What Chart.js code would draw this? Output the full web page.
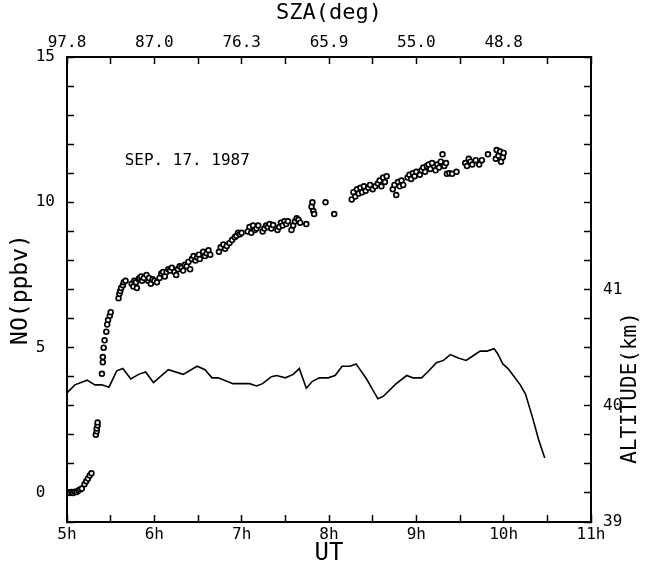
<!DOCTYPE html>
<html>
<head>
  <meta charset="UTF-8">
  <title>NO SEP. 17. 1987</title>
  <style>
    body {
      margin: 0;
      background: #fff;
      overflow: hidden;
    }
    .grafica-container {
      width: 646px;
      height: 572px;
      position: relative;
    }
  </style>
</head>
<body>
  <div class="grafica-container">
    <canvas id="grafica"></canvas>
  </div>

  <script src="https://cdn.jsdelivr.net/npm/chart.js"></script>
  <script>
    // NO mixing ratio (ppbv) vs UT (hours)
    var noHours = [
      5.01, 5.03, 5.05, 5.07, 5.09, 5.11, 5.13, 5.15, 5.17, 5.20, 5.22, 5.24, 5.26, 5.28,
      5.33, 5.34, 5.34, 5.35, 5.35,
      5.40, 5.41, 5.41, 5.42, 5.43, 5.45, 5.46, 5.47, 5.49, 5.50,
      5.59, 5.60, 5.61, 5.62, 5.64, 5.65, 5.67,
      5.74, 5.76, 5.77, 5.79, 5.80, 5.82, 5.83, 5.85, 5.86, 5.88,
      5.91, 5.93, 5.94, 5.96, 5.98, 6.00, 6.03,
      6.06, 6.08, 6.10, 6.12, 6.14, 6.16, 6.18, 6.20,
      6.23, 6.25, 6.27, 6.29, 6.31, 6.33, 6.35, 6.37,
      6.39, 6.41, 6.43, 6.45, 6.47, 6.49, 6.51, 6.52,
      6.56, 6.58, 6.60, 6.62, 6.64,
      6.74, 6.76, 6.79, 6.81, 6.83,
      6.86, 6.89, 6.92, 6.94, 6.96, 6.98, 7.00,
      7.07, 7.09, 7.11, 7.13, 7.15, 7.17, 7.19,
      7.24, 7.26, 7.28, 7.30, 7.32, 7.34, 7.36,
      7.41, 7.43, 7.45, 7.47, 7.49, 7.51, 7.53,
      7.57, 7.59, 7.61, 7.63, 7.65, 7.67, 7.74,
      7.80, 7.81, 7.82, 7.83,
      7.96, 8.06,
      8.26, 8.28, 8.30, 8.32, 8.34, 8.36, 8.38,
      8.40, 8.42, 8.45, 8.47, 8.50, 8.53,
      8.56, 8.58, 8.60, 8.62, 8.64, 8.66,
      8.73, 8.75, 8.77, 8.79, 8.81, 8.83, 8.85,
      8.90, 8.92, 8.94, 8.96, 8.98, 9.00,
      9.04, 9.06, 9.08, 9.10, 9.12, 9.14, 9.16, 9.18,
      9.22, 9.24, 9.26, 9.28, 9.30, 9.32, 9.34,
      9.35, 9.38, 9.41, 9.46,
      9.56, 9.58, 9.60, 9.62, 9.64, 9.68, 9.72, 9.75,
      9.82,
      9.91, 9.92, 9.94, 9.96, 9.97, 9.99, 10.00
    ];
    var noValues = [
      0.02, 0.00, 0.03, 0.00, 0.04, 0.03, 0.08, 0.12, 0.15, 0.30, 0.40, 0.50, 0.60, 0.68,
      2.00, 2.12, 2.22, 2.32, 2.42,
      4.10, 4.50, 4.68, 5.00, 5.25, 5.55, 5.80, 5.95, 6.10, 6.22,
      6.70, 6.85, 6.95, 7.05, 7.15, 7.25, 7.30,
      7.20, 7.10, 7.30, 7.25, 7.05, 7.35, 7.40, 7.45, 7.30, 7.40,
      7.50, 7.30, 7.40, 7.20, 7.35, 7.30, 7.25,
      7.40, 7.55, 7.60, 7.45, 7.60, 7.70, 7.65, 7.75,
      7.60, 7.50, 7.70, 7.80, 7.75, 7.65, 7.85, 7.80,
      7.95, 7.70, 8.05, 8.15, 8.00, 8.10, 8.20, 8.05,
      8.30, 8.15, 8.25, 8.35, 8.20,
      8.30, 8.45, 8.55, 8.40, 8.50,
      8.60, 8.70, 8.80, 8.85, 8.95, 8.90, 8.95,
      9.00, 9.15, 8.95, 9.20, 9.05, 9.10, 9.20,
      9.00, 9.10, 9.20, 9.15, 9.25, 9.10, 9.22,
      9.05, 9.15, 9.30, 9.20, 9.35, 9.25, 9.35,
      9.05, 9.20, 9.35, 9.45, 9.40, 9.30, 9.25,
      9.85, 10.00, 9.70, 9.60,
      10.00, 9.60,
      10.10, 10.35, 10.20, 10.45, 10.30, 10.50, 10.35,
      10.55, 10.40, 10.50, 10.60, 10.45, 10.55,
      10.65, 10.75, 10.55, 10.85, 10.70, 10.90,
      10.45, 10.60, 10.25, 10.70, 10.55, 10.75, 10.60,
      10.85, 10.95, 10.80, 11.00, 10.90, 11.05,
      10.95, 11.10, 11.20, 11.05, 11.25, 11.30, 11.15, 11.35,
      11.10, 11.30, 11.20, 11.40, 11.65, 11.25, 11.35,
      10.98, 11.00, 10.98, 11.05,
      11.35, 11.25, 11.50, 11.40, 11.30, 11.45, 11.30, 11.45,
      11.65,
      11.50, 11.80, 11.60, 11.75, 11.40, 11.55, 11.70
    ];

    // balloon altitude (km) vs UT (hours)
    var altHours = [
      5.00, 5.09, 5.23, 5.32, 5.40, 5.48, 5.57, 5.64, 5.73, 5.82, 5.90, 5.99,
      6.16, 6.33, 6.49, 6.58, 6.66, 6.73, 6.90, 7.09, 7.17, 7.24, 7.34, 7.40,
      7.50, 7.59, 7.66, 7.74, 7.81, 7.89, 7.99, 8.07, 8.15, 8.24, 8.31, 8.43,
      8.56, 8.62, 8.77, 8.89, 8.96, 9.06, 9.13, 9.23, 9.31, 9.39, 9.48, 9.57,
      9.65, 9.73, 9.81, 9.89, 9.93, 9.99, 10.05, 10.11, 10.19, 10.25, 10.33, 10.40, 10.47
    ];
    var altValues = [
      40.11, 40.18, 40.22, 40.18, 40.18, 40.16, 40.30, 40.32, 40.23, 40.27, 40.29, 40.20,
      40.31, 40.27, 40.34, 40.31, 40.24, 40.24, 40.19, 40.19, 40.17, 40.19, 40.25, 40.26,
      40.24, 40.27, 40.32, 40.15, 40.21, 40.24, 40.24, 40.26, 40.34, 40.34, 40.36, 40.23,
      40.06, 40.08, 40.19, 40.26, 40.24, 40.24, 40.29, 40.37, 40.39, 40.44, 40.41, 40.39,
      40.43, 40.47, 40.47, 40.49, 40.45, 40.36, 40.32, 40.26, 40.18, 40.10, 39.90, 39.71, 39.55
    ];

    // tick labels
    var utLabels = { 5: '5h', 6: '6h', 7: '7h', 8: '8h', 9: '9h', 10: '10h', 11: '11h' };
    var szaLabels = { 5: '97.8', 6: '87.0', 7: '76.3', 8: '65.9', 9: '55.0', 10: '48.8' };
    var noLabels = { 0: '0 ', 5: '5 ', 10: '10', 15: '15' };
    var altLabels = { 39: '39', 40: '40', 41: '41' };
    var fecha = 'SEP. 17. 1987';

    var fuente = 'DejaVu Sans Mono';

    var textosExtra = {
      id: 'textosExtra',
      afterDraw: function(chart) {
        var ctx = chart.ctx;
        var x = chart.scales.x;
        var y = chart.scales.y;
        ctx.save();
        ctx.fillStyle = '#000';
        ctx.font = '16px "' + fuente + '"';
        ctx.textAlign = 'left';
        ctx.textBaseline = 'middle';
        ctx.fillText(fecha, x.getPixelForValue(5.66), y.getPixelForValue(11.43));

        ctx.font = '21px "' + fuente + '"';
        ctx.textAlign = 'center';
        ctx.translate(631, 388);
        ctx.rotate(-Math.PI / 2);
        ctx.fillText('ALTITUDE(km)', 0, 0);
        ctx.restore();
      }
    };

    function ejeComun() {
      return {
        border: { color: '#000', width: 2 },
        grid: {
          drawOnChartArea: false,
          drawTicks: true,
          tickLength: -7,
          tickColor: '#000',
          tickWidth: 1.5
        }
      };
    }

    var ejeX = ejeComun();
    ejeX.type = 'linear';
    ejeX.position = 'bottom';
    ejeX.min = 5;
    ejeX.max = 11;
    ejeX.ticks = {
      stepSize: 0.5,
      autoSkip: false,
      maxRotation: 0,
      padding: 10,
      color: '#000',
      font: { family: fuente, size: 16 },
      callback: function(v) { return utLabels[v] || ''; }
    };
    ejeX.title = {
      display: true, text: 'UT', color: '#000',
      font: { family: fuente, size: 24 }, padding: { top: 0, bottom: 4 }
    };
    ejeX.afterFit = function(s) { s.height = 50; };

    var ejeX2 = ejeComun();
    ejeX2.type = 'linear';
    ejeX2.position = 'top';
    ejeX2.min = 5;
    ejeX2.max = 11;
    ejeX2.ticks = {
      stepSize: 0.5,
      autoSkip: false,
      maxRotation: 0,
      padding: 12,
      color: '#000',
      font: { family: fuente, size: 16 },
      callback: function(v) { return szaLabels[v] || ''; }
    };
    ejeX2.title = {
      display: true, text: 'SZA(deg)', color: '#000',
      font: { family: fuente, size: 22 }, padding: { top: 0, bottom: 0 }
    };
    ejeX2.afterFit = function(s) { s.height = 57; };

    var ejeY = ejeComun();
    ejeY.type = 'linear';
    ejeY.position = 'left';
    ejeY.min = -1;
    ejeY.max = 15;
    ejeY.ticks = {
      stepSize: 1,
      autoSkip: false,
      padding: 19,
      color: '#000',
      font: { family: fuente, size: 16 },
      callback: function(v) { return noLabels[v] || ''; }
    };
    ejeY.title = {
      display: true, text: 'NO(ppbv)', color: '#000',
      font: { family: fuente, size: 23 }, padding: { top: 7, bottom: 0 }
    };
    ejeY.afterFit = function(s) { s.width = 67; };

    var ejeY2 = ejeComun();
    ejeY2.type = 'linear';
    ejeY2.position = 'right';
    ejeY2.min = 39;
    ejeY2.max = 43;
    ejeY2.ticks = {
      stepSize: 0.25,
      autoSkip: false,
      padding: 19,
      color: '#000',
      font: { family: fuente, size: 16 },
      callback: function(v) { return altLabels[v] || ''; }
    };
    ejeY2.afterFit = function(s) { s.width = 55; };

    var puntosNO = noHours.map(function(h, i) { return { x: h, y: noValues[i] }; });
    var puntosAlt = altHours.map(function(h, i) { return { x: h, y: altValues[i] }; });

    var ctx = document.getElementById('grafica').getContext('2d');
    var myChart = new Chart(ctx, {
      type: 'scatter',
      data: {
        datasets: [{
          label: 'NO',
          data: puntosNO,
          xAxisID: 'x',
          yAxisID: 'y',
          pointStyle: 'circle',
          pointRadius: 2.4,
          borderWidth: 1.7,
          borderColor: '#000',
          backgroundColor: '#fff'
        }, {
          label: 'ALTITUDE',
          data: puntosAlt,
          xAxisID: 'x',
          yAxisID: 'y2',
          showLine: true,
          tension: 0,
          pointRadius: 0,
          borderWidth: 1.6,
          borderColor: '#000',
          backgroundColor: '#000'
        }]
      },
      options: {
        responsive: true,
        maintainAspectRatio: false,
        animation: false,
        layout: { padding: 0 },
        plugins: {
          legend: { display: false },
          tooltip: { enabled: false }
        },
        scales: {
          x: ejeX,
          x2: ejeX2,
          y: ejeY,
          y2: ejeY2
        }
      },
      plugins: [textosExtra]
    });
  </script>
</body>
</html>
